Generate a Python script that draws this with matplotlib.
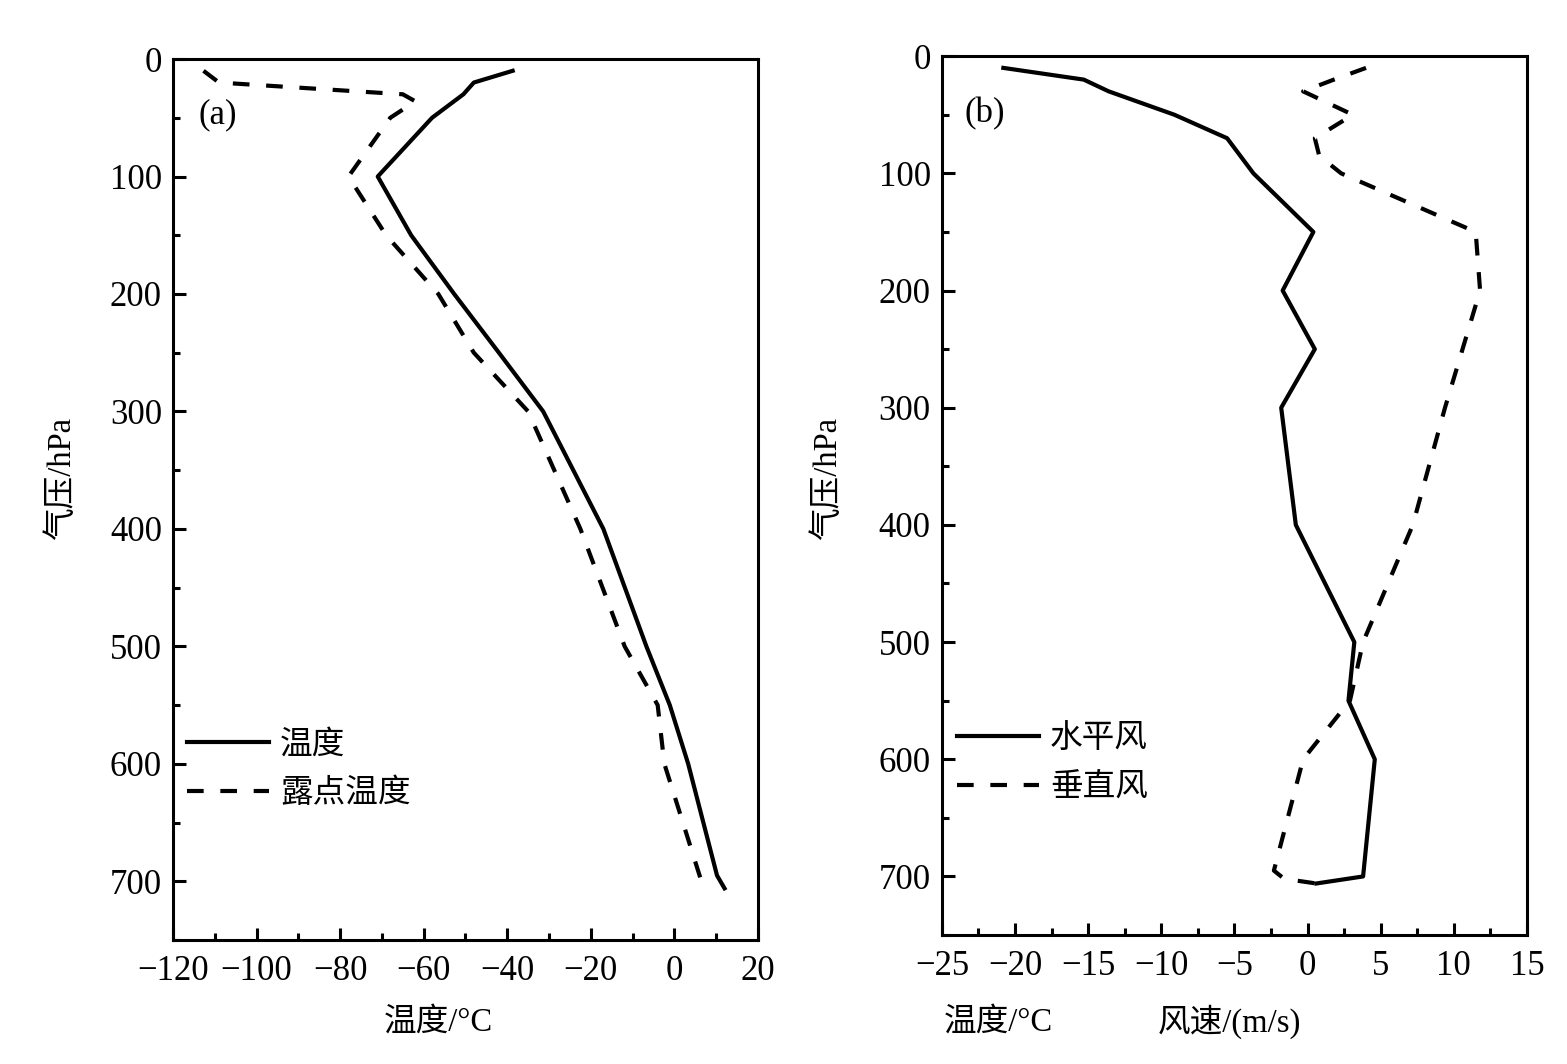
"""
Temperature / dew point and wind profiles against pressure
"""
import matplotlib
matplotlib.use("Agg")
import matplotlib.pyplot as plt
from matplotlib.ticker import MultipleLocator

plt.rcParams['font.family'] = ['Liberation Serif', 'Noto Sans CJK SC']
plt.rcParams['axes.unicode_minus'] = True

# panel (a): temperature and dew point
p_temp = [10, 20, 30, 50, 100, 150, 200, 250, 300, 400, 500, 550, 600, 695, 706]
temp = [-38.7, -48, -50.5, -58, -71, -63, -52.7, -42, -31.4, -17, -6.7, -1.1, 3.3, 10.2, 12.0]

p_dew = [10, 20, 30, 36, 50, 100, 150, 200, 250, 300, 400, 500, 550, 600, 706]
dew = [-112.7, -109, -65, -62, -68, -78, -69, -56.5, -48, -35, -22.5, -11.9, -4.0, -2.4, 7.0]

# panel (b): horizontal and vertical wind
p_hwind = [10, 20, 30, 50, 70, 100, 150, 200, 250, 300, 400, 500, 550, 600, 700, 706]
hwind = [-20.8, -15.3, -13.6, -9.1, -5.5, -3.7, 0.4, -1.7, 0.5, -1.8, -0.8, 3.2, 2.8, 4.6, 3.8, 0.6]

p_vwind = [10, 20, 30, 50, 70, 85, 100, 150, 200, 300, 400, 500, 550, 600, 695, 702, 706]
vwind = [4.0, 1.8, -0.3, 3.1, 0.5, 0.8, 2.3, 11.5, 11.8, 9.4, 7.2, 3.8, 2.9, -0.3, -2.3, -1.6, 0.6]

legend_a = ["温度", "露点温度"]
legend_b = ["水平风", "垂直风"]

DASH = (0, (4, 4))
LW = 3.0
FS_NUM = 25
FS_CJK = 23.5


def style_axis(ax, xmaj, xmin):
    for s in ax.spines.values():
        s.set_linewidth(2.2)
    ax.set_ylim(750, 0)
    ax.yaxis.set_major_locator(MultipleLocator(100))
    ax.yaxis.set_minor_locator(MultipleLocator(50))
    ax.xaxis.set_major_locator(MultipleLocator(xmaj))
    ax.xaxis.set_minor_locator(MultipleLocator(xmin))
    ax.tick_params(which='both', direction='in', top=False, right=False, width=2.2)
    ax.tick_params(which='major', length=9, labelsize=FS_NUM)
    ax.tick_params(axis='x', which='major', pad=11)
    ax.tick_params(axis='y', which='major', pad=8)
    ax.tick_params(which='minor', length=5)


fig = plt.figure(figsize=(15.67, 10.64), dpi=100)

ax1 = fig.add_axes([0.1104, 0.1165, 0.3733, 0.828])
ax1.plot(temp, p_temp, color='black', lw=LW, label=legend_a[0])
ax1.plot(dew, p_dew, color='black', lw=LW, linestyle=DASH, label=legend_a[1])
ax1.set_xlim(-120, 20)
style_axis(ax1, 20, 10)
ax1.text(0.043, 0.937, "(a)", transform=ax1.transAxes, fontsize=FS_NUM, va='center')
ax1.text(0.453, -0.093, "温度/°C", transform=ax1.transAxes, fontsize=FS_CJK,
         ha='center', va='center')
ax1.text(-0.19, 0.524, "气压/hPa", transform=ax1.transAxes, fontsize=FS_CJK,
         ha='center', va='center', rotation=90)
ax1.legend(loc='upper left', bbox_to_anchor=(0.024, 0.238), frameon=False,
           fontsize=FS_CJK, handlelength=2.5, handletextpad=0.35,
           labelspacing=0.55, borderpad=0, borderaxespad=0)

ax2 = fig.add_axes([0.6011, 0.1212, 0.3733, 0.826])
ax2.plot(hwind, p_hwind, color='black', lw=LW, label=legend_b[0])
ax2.plot(vwind, p_vwind, color='black', lw=LW, linestyle=DASH, label=legend_b[1])
ax2.set_xlim(-25, 15)
style_axis(ax2, 5, 2.5)
ax2.text(0.039, 0.935, "(b)", transform=ax2.transAxes, fontsize=FS_NUM, va='center')
ax2.text(0.096, -0.099, "温度/°C", transform=ax2.transAxes, fontsize=FS_CJK,
         ha='center', va='center')
ax2.text(0.492, -0.099, "风速/(m/s)", transform=ax2.transAxes, fontsize=FS_CJK,
         ha='center', va='center')
ax2.text(-0.195, 0.52, "气压/hPa", transform=ax2.transAxes, fontsize=FS_CJK,
         ha='center', va='center', rotation=90)
ax2.legend(loc='upper left', bbox_to_anchor=(0.026, 0.24), frameon=False,
           fontsize=FS_CJK, handlelength=2.5, handletextpad=0.35,
           labelspacing=0.55, borderpad=0, borderaxespad=0)

fig.savefig("out.png", dpi=100)
